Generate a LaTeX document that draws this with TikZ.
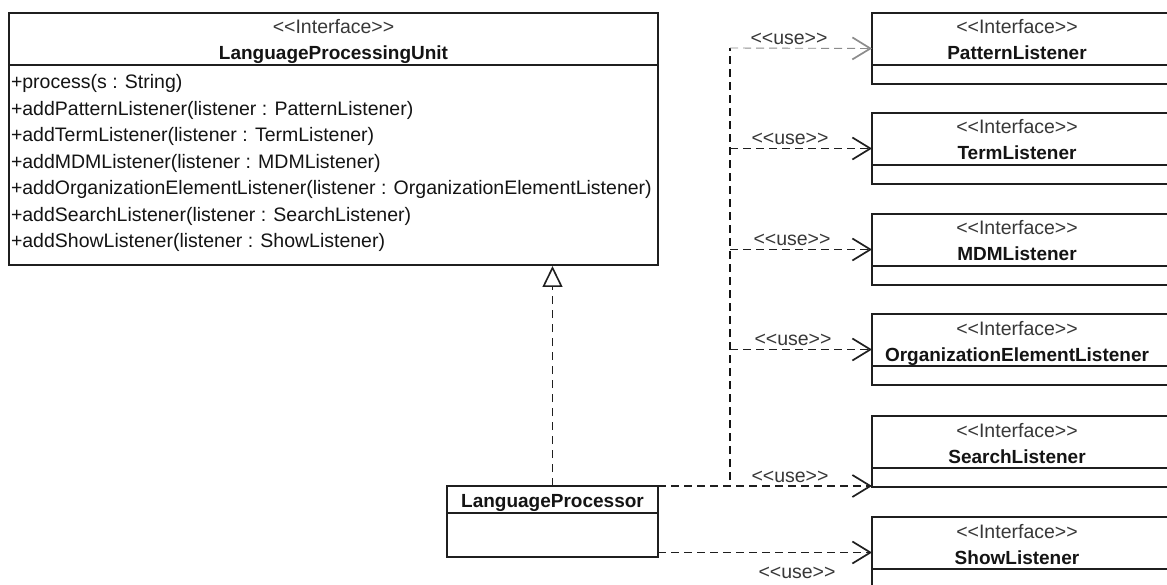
\documentclass[tikz,border=0pt]{standalone}
\usepackage{fontspec}
\newfontfamily\umlfont{Liberation Sans}
\usetikzlibrary{arrows.meta}
\begin{document}
\begin{tikzpicture}[x=1pt,y=-1pt,
  txt/.style={inner sep=0pt, outer sep=0pt, text=black!92,
    font=\umlfont\fontsize{19.5}{22}\selectfont},
  stereo/.style={txt, anchor=base, text=black!78},
  cname/.style={txt, anchor=base, font=\umlfont\bfseries\fontsize{19}{22}\selectfont},
  method/.style={txt, anchor=base west},
  uselabel/.style={txt, anchor=base, text=black!78},
  classbox/.style={draw=black!88, line width=1.8pt, anchor=north west,
    inner sep=0pt, outer sep=0pt, fill=white},
  boxline/.style={draw=black!88, line width=1.8pt},
  usearrow/.style={draw=black!88, line width=1.7pt, dash pattern=on 8pt off 5pt,
    -{Straight Barb[length=18pt,width=22pt,line width=1.7pt]}},
  trunk/.style={draw=black!92, line width=2.5pt, dash pattern=on 8pt off 5pt},
  realize/.style={draw=black!88, line width=1.5pt, dash pattern=on 8pt off 6pt,
    -{Triangle[open,length=21pt,width=20pt,line width=1.6pt,fill=white]}, shorten >=1pt}
]
\clip (0,0) rectangle (1167,585);
\fill[white] (0,0) rectangle (1167,585);

% interface LanguageProcessingUnit
\node[classbox, minimum width=649pt, minimum height=252pt] (lpu) at (9,13) {};
\draw[boxline] ([yshift=-52pt]lpu.north west) -- ([yshift=-52pt]lpu.north east);
\node[stereo] (lpuS) at (333.5,34) {<<Interface>>};
\node[cname] (lpuN) at (333.5,60) {LanguageProcessingUnit};
\node[method] (m1) at (11,89) {+process(s : String)};
\node[method] (m2) at (11,115.5) {+addPatternListener(listener : PatternListener)};
\node[method] (m3) at (11,142) {+addTermListener(listener : TermListener)};
\node[method] (m4) at (11,168.5) {+addMDMListener(listener : MDMListener)};
\node[method] (m5) at (11,195) {+addOrganizationElementListener(listener : OrganizationElementListener)};
\node[method] (m6) at (11,221.5) {+addSearchListener(listener : SearchListener)};
\node[method] (m7) at (11,248) {+addShowListener(listener : ShowListener)};

% class LanguageProcessor
\node[classbox, minimum width=211pt, minimum height=71pt] (lp) at (447,486) {};
\draw[boxline] ([yshift=-27pt]lp.north west) -- ([yshift=-27pt]lp.north east);
\node[cname] (lpN) at (552.5,507) {LanguageProcessor};

% listener interfaces
\foreach \nm/\lbl/\top in {pattern/PatternListener/13, term/TermListener/113,
    mdm/MDMListener/214, oel/OrganizationElementListener/314,
    search/SearchListener/416, show/ShowListener/517} {
  \node[classbox, minimum width=300pt, minimum height=71pt] (\nm) at (872,\top) {};
  \draw[boxline] ([yshift=-52pt]\nm.north west) -- ([yshift=-52pt]\nm.north east);
  \node[stereo] (\nm S) at (1017,\top+21) {<<Interface>>};
  \node[cname] (\nm N) at (1017,\top+47) {\lbl};
}

% realization
\draw[realize] (lp.north) -- (lp.north |- lpu.south);

% shared trunk of the dependencies
\coordinate (trunktop) at (730,48);
\draw[trunk] (lp.north east) -| (trunktop);

% dependencies
\draw[usearrow, draw=black!45, line width=0.9pt] (trunktop) -- (pattern.west);
\draw[usearrow] (trunktop |- term.west) -- (term.west);
\draw[usearrow] (trunktop |- mdm.west) -- (mdm.west);
\draw[usearrow] (trunktop |- oel.west) -- (oel.west);
\draw[usearrow] (lp.north east) -- (lp.north east -| search.west);
\draw[usearrow] (lp.east |- show.west) -- (show.west);

\node[uselabel] (u1) at (789,45) {<<use>>};
\node[uselabel] (u2) at (790,145) {<<use>>};
\node[uselabel] (u3) at (792,246) {<<use>>};
\node[uselabel] (u4) at (793,345) {<<use>>};
\node[uselabel] (u5) at (790,482) {<<use>>};
\node[uselabel] (u6) at (797,578) {<<use>>};
\end{tikzpicture}
\end{document}
